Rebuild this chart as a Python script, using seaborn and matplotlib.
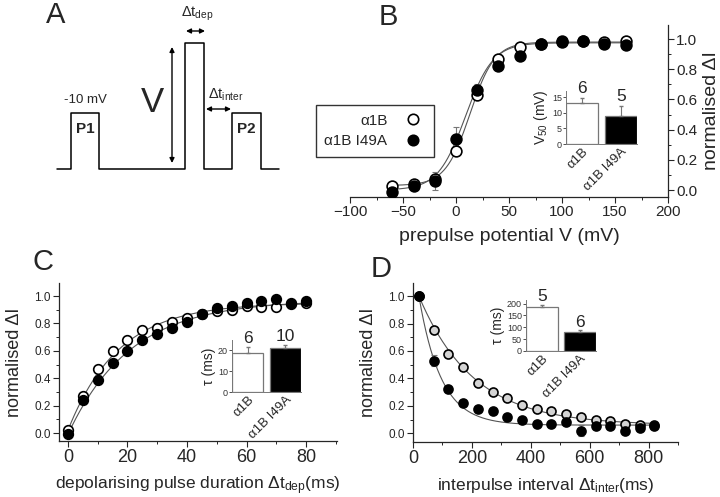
import numpy as np
import pandas as pd
import matplotlib
matplotlib.use('Agg')
import matplotlib.pyplot as plt
from matplotlib.ticker import MultipleLocator
import seaborn as sns

sns.set_style('ticks')
plt.rcParams['font.family'] = ['Liberation Sans', 'DejaVu Sans']
plt.rcParams['mathtext.fontset'] = 'custom'
plt.rcParams['mathtext.rm'] = 'Liberation Sans'
plt.rcParams['mathtext.it'] = 'Liberation Sans:italic'
plt.rcParams['axes.linewidth'] = 0.9

# ---- data ----
groups = ['α1B', 'α1B I49A']

# B: steady-state voltage dependence
prepulse_v = [-60, -40, -20, 0, 20, 40, 60, 80, 100, 120, 140, 160]
b_wt = [0.03, 0.04, 0.07, 0.26, 0.63, 0.87, 0.95, 0.97, 0.99, 0.99, 0.98, 0.99]
b_wt_err = [0.01, 0.01, 0.03, 0.02, 0.03, 0.01, 0.01, 0.01, 0.01, 0.01, 0.01, 0.01]
b_mut = [-0.01, 0.03, 0.06, 0.34, 0.66, 0.82, 0.89, 0.97, 0.98, 0.99, 0.97, 0.96]
b_mut_err = [0.02, 0.02, 0.06, 0.08, 0.04, 0.02, 0.02, 0.01, 0.01, 0.01, 0.01, 0.01]
v50_vals = [13.2, 8.9]
v50_err = [1.6, 3.2]
v50_n = [6, 5]
# Boltzmann fit parameters (bottom, top, slope)
b_fit_wt = (0.03, 0.98, 11.6)
b_fit_mut = (0.0, 0.975, 13.0)

# C: onset with depolarising pulse duration
dep_t = [0, 5, 10, 15, 20, 25, 30, 35, 40, 45, 50, 55, 60, 65, 70, 75, 80]
c_wt = [0.02, 0.27, 0.47, 0.60, 0.68, 0.75, 0.77, 0.81, 0.84, 0.87, 0.89, 0.90, 0.93, 0.92, 0.92, 0.94, 0.95]
c_wt_err = [0.01, 0.02, 0.03, 0.03, 0.03, 0.03, 0.02, 0.01, 0.01, 0.01, 0.01, 0.01, 0.01, 0.01, 0.01, 0.01, 0.03]
c_mut = [-0.01, 0.24, 0.39, 0.51, 0.60, 0.68, 0.72, 0.77, 0.81, 0.87, 0.91, 0.93, 0.95, 0.96, 0.98, 0.95, 0.96]
c_mut_err = [0.02, 0.03, 0.03, 0.02, 0.02, 0.02, 0.01, 0.02, 0.02, 0.01, 0.01, 0.01, 0.01, 0.01, 0.01, 0.01, 0.02]
tau_c_vals = [18.9, 21.1]
tau_c_err = [2.7, 1.5]
tau_c_n = [6, 10]
c_fit_wt = (0.02, 0.93, 17.0)   # offset, amplitude, tau
c_fit_mut = (-0.01, 0.98, 21.0)

# D: recovery with interpulse interval
inter_t = [20, 70, 120, 170, 220, 270, 320, 370, 420, 470, 520, 570, 620, 670, 720, 770, 820]
d_wt = [1.0, 0.75, 0.58, 0.48, 0.37, 0.30, 0.26, 0.21, 0.18, 0.16, 0.14, 0.12, 0.10, 0.09, 0.07, 0.06, 0.06]
d_wt_err = [0.01, 0.02, 0.02, 0.02, 0.02, 0.02, 0.02, 0.02, 0.02, 0.02, 0.02, 0.02, 0.02, 0.02, 0.02, 0.02, 0.02]
d_mut = [1.0, 0.53, 0.32, 0.22, 0.18, 0.16, 0.12, 0.10, 0.07, 0.07, 0.08, 0.02, 0.05, 0.05, 0.02, 0.04, 0.05]
d_mut_err = [0.01, 0.04, 0.02, 0.02, 0.02, 0.02, 0.01, 0.01, 0.01, 0.01, 0.02, 0.04, 0.02, 0.02, 0.02, 0.02, 0.02]
tau_d_vals = [186, 81]
tau_d_err = [10, 7]
tau_d_n = [5, 6]
d_fit_wt = (0.06, 185.0)   # plateau, tau
d_fit_mut = (0.06, 75.0)

# A: pulse protocol (schematic, figure pixel units)
wave_x = [57, 71, 71, 99, 99, 185, 185, 204, 204, 232, 232, 261, 261, 279]
wave_y = [169, 169, 113, 113, 169, 169, 43, 43, 169, 169, 113, 113, 169, 169]

W, H = 720, 497
fig = plt.figure(figsize=(7.2, 4.97), dpi=100)


def px_axes(x0, y0, x1, y1):
    return fig.add_axes([x0 / W, 1 - y1 / H, (x1 - x0) / W, (y1 - y0) / H])


# ---- panel A + letters (overlay in pixel coords) ----
ov = fig.add_axes([0, 0, 1, 1])
ov.set_xlim(0, W)
ov.set_ylim(H, 0)
ov.axis('off')
sns.lineplot(x=wave_x, y=wave_y, ax=ov, color='black', lw=1.1, sort=False, estimator=None)
arr = dict(arrowstyle='<|-|>', color='black', lw=1.0, mutation_scale=7, shrinkA=0, shrinkB=0)
ov.annotate('', xy=(172, 47), xytext=(172, 163), arrowprops=arr)
ov.annotate('', xy=(186, 31), xytext=(205, 31), arrowprops=arr)
ov.annotate('', xy=(206, 109), xytext=(231, 109), arrowprops=arr)
ov.text(152, 103, 'V', fontsize=25, ha='center', va='center')
ov.text(85, 100, '-10 mV', fontsize=9.5, ha='center', va='center')
ov.text(85, 129, 'P1', fontsize=11, fontweight='bold', ha='center', va='center')
ov.text(246, 129, 'P2', fontsize=11, fontweight='bold', ha='center', va='center')
ov.text(197, 14, r'$\Delta$t$_{\mathrm{dep}}$', fontsize=10.5, ha='center', va='center')
ov.text(226, 95, r'$\Delta$t$_{\mathrm{inter}}$', fontsize=10.5, ha='center', va='center')
for lab, lx, ly in [('A', 56, 15), ('B', 388, 17), ('C', 43, 262), ('D', 381, 269)]:
    ov.text(lx, ly, lab, fontsize=21, ha='center', va='center')

grey = '#555555'


def draw_series(ax, x, y, err, face, ms):
    ax.errorbar(x, y, yerr=err, fmt='none', ecolor='#777777', elinewidth=0.8, capsize=2, capthick=0.8, zorder=2)
    sns.scatterplot(x=x, y=y, ax=ax, marker='o', s=ms, facecolor=face, edgecolor='black',
                    linewidth=1.2, zorder=3, legend=False)


def fit_line(ax, x, y):
    sns.lineplot(x=x, y=y, ax=ax, color=grey, lw=0.8, zorder=1)


def inset_bars(ax, vals, errs, ns, ymax, ystep, ylabel, ntxt_pad):
    df = pd.DataFrame({'g': groups, 'v': vals})
    sns.barplot(data=df, x='g', y='v', hue='g', palette=['white', 'black'], edgecolor='#777777',
                linewidth=0.9, width=0.82, ax=ax, legend=False)
    ax.errorbar([0, 1], vals, yerr=[[0, 0], errs], fmt='none', ecolor='#777777', elinewidth=0.8,
                capsize=1.5)
    for i in range(2):
        ax.text(i, vals[i] + errs[i] + ntxt_pad, str(ns[i]), ha='center', va='bottom', fontsize=12.5)
    ax.set_xlim(-0.42, 1.42)
    ax.set_ylim(0, ymax)
    ax.yaxis.set_major_locator(MultipleLocator(ystep))
    ax.set_xlabel('')
    ax.set_ylabel(ylabel, fontsize=10, labelpad=1)
    ax.tick_params(axis='y', labelsize=6.5, length=2, width=0.6, pad=1, colors='#333333')
    ax.tick_params(axis='x', length=0, pad=1)
    ax.set_xticks([0, 1])
    ax.set_xticklabels(groups, rotation=45, ha='right', rotation_mode='anchor', fontsize=9.5)
    ax.patch.set_alpha(0)
    for s in ['top', 'right']:
        ax.spines[s].set_visible(False)
    for s in ['left', 'bottom']:
        ax.spines[s].set_color('#777777')
        ax.spines[s].set_linewidth(0.7)


# ---- panel B ----
axb = px_axes(350, 25, 668, 197)
vv = np.linspace(-60, 160, 300)
for (lo, hi, k), v50 in zip([b_fit_wt, b_fit_mut], v50_vals):
    fit_line(axb, vv, lo + (hi - lo) / (1 + np.exp((v50 - vv) / k)))
draw_series(axb, prepulse_v, b_wt, b_wt_err, 'white', 60)
draw_series(axb, prepulse_v, b_mut, b_mut_err, 'black', 60)
axb.set_xlim(-100, 200)
axb.set_ylim(-0.046, 1.093)
axb.spines['left'].set_visible(False)
axb.spines['top'].set_visible(False)
axb.yaxis.tick_right()
axb.yaxis.set_label_position('right')
axb.xaxis.set_major_locator(MultipleLocator(50))
axb.xaxis.set_minor_locator(MultipleLocator(25))
axb.set_yticks(np.arange(0, 1.01, 0.2))
axb.set_yticklabels(['0.0', '0.2', '0.4', '0.6', '0.8', '1.0'])
axb.yaxis.set_minor_locator(MultipleLocator(0.1))
axb.tick_params(which='major', length=4, width=0.8, labelsize=11, pad=2)
axb.tick_params(which='minor', length=2, width=0.7)
axb.set_xlabel('prepulse potential V (mV)', fontsize=14, labelpad=6)
axb.set_ylabel('normalised ΔI', fontsize=14, labelpad=4)

leg_h = [plt.Line2D([], [], ls='none', marker='o', ms=7.5, mfc='white', mec='black', mew=1.2),
         plt.Line2D([], [], ls='none', marker='o', ms=7.5, mfc='black', mec='black', mew=1.2)]
lg = fig.legend(leg_h, groups, loc='center', bbox_to_anchor=(375 / W, 1 - 131 / H), markerfirst=False,
                fontsize=11, frameon=True, fancybox=False, edgecolor='black', borderpad=0.55,
                handlelength=1.6, handletextpad=0.9, labelspacing=0.45, borderaxespad=0,
                alignment='right')
lg.get_frame().set_linewidth(1.0)
for t in lg.get_texts():
    t.set_ha('right')

axbi = px_axes(566, 91, 637, 144)
inset_bars(axbi, v50_vals, v50_err, v50_n, 17, 5, r'V$_{50}$ (mV)', 0.6)

# ---- panel C ----
axc = px_axes(59, 283, 337, 441)
tt = np.linspace(0, 80, 300)
for off, amp, tau in [c_fit_wt, c_fit_mut]:
    fit_line(axc, tt, off + amp * (1 - np.exp(-tt / tau)))
draw_series(axc, dep_t, c_wt, c_wt_err, 'white', 48)
draw_series(axc, dep_t, c_mut, c_mut_err, 'black', 48)
axc.set_xlim(-3, 90.4)
axc.set_ylim(-0.058, 1.095)
axc.xaxis.set_major_locator(MultipleLocator(20))
axc.xaxis.set_minor_locator(MultipleLocator(10))
axc.set_yticks(np.arange(0, 1.01, 0.2))
axc.set_yticklabels(['0.0', '0.2', '0.4', '0.6', '0.8', '1.0'])
axc.yaxis.set_minor_locator(MultipleLocator(0.1))
axc.tick_params(which='major', length=4, width=0.8, pad=2)
axc.tick_params(which='minor', length=2, width=0.7)
axc.tick_params(axis='x', labelsize=13)
axc.tick_params(axis='y', labelsize=8.5)
axc.set_xlabel(r'depolarising pulse duration $\Delta$t$_{\mathrm{dep}}$(ms)', fontsize=12.5, labelpad=6)
axc.set_ylabel('normalised ΔI', fontsize=13, labelpad=8)
sns.despine(ax=axc)

axci = px_axes(232, 340, 301, 392)
inset_bars(axci, tau_c_vals, tau_c_err, tau_c_n, 25, 10, 'τ (ms)', 0.3)

# ---- panel D ----
axd = px_axes(413, 283, 678, 442)
ti = np.linspace(20, 820, 300)
for plat, tau in [d_fit_wt, d_fit_mut]:
    fit_line(axd, ti, plat + (1 - plat) * np.exp(-(ti - 20) / tau))
draw_series(axd, inter_t, d_wt, d_wt_err, '#d4d4d4', 42)
draw_series(axd, inter_t, d_mut, d_mut_err, 'black', 42)
axd.set_xlim(0, 900)
axd.set_ylim(-0.063, 1.095)
axd.xaxis.set_major_locator(MultipleLocator(200))
axd.xaxis.set_minor_locator(MultipleLocator(100))
axd.set_yticks(np.arange(0, 1.01, 0.2))
axd.set_yticklabels(['0.0', '0.2', '0.4', '0.6', '0.8', '1.0'])
axd.yaxis.set_minor_locator(MultipleLocator(0.1))
axd.tick_params(which='major', length=4, width=0.8, pad=2)
axd.tick_params(which='minor', length=2, width=0.7)
axd.tick_params(axis='x', labelsize=13)
axd.tick_params(axis='y', labelsize=8.5)
axd.set_xlabel(r'interpulse interval $\Delta$t$_{\mathrm{inter}}$(ms)', fontsize=12.5, labelpad=6)
axd.set_ylabel('normalised ΔI', fontsize=13, labelpad=8)
sns.despine(ax=axd)

axdi = px_axes(526, 300, 596, 351)
inset_bars(axdi, tau_d_vals, tau_d_err, tau_d_n, 215, 50, 'τ (ms)', 2)

fig.savefig('out.png', dpi=100)
